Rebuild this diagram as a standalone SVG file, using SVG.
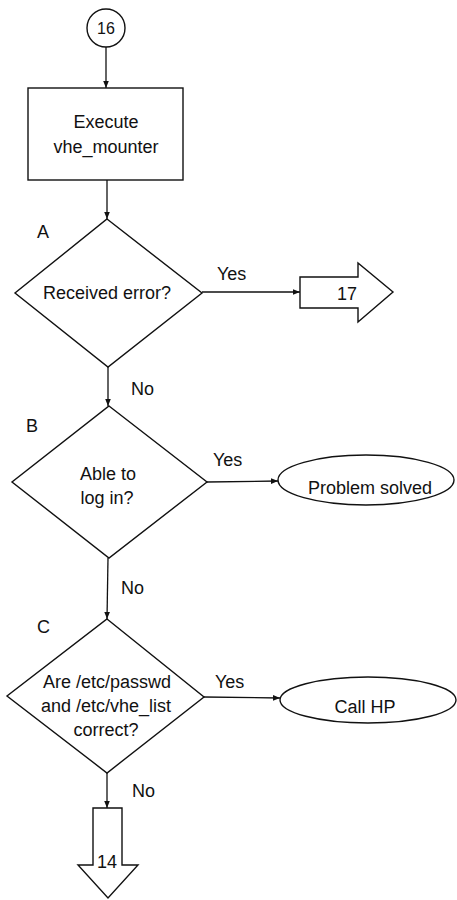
<svg xmlns="http://www.w3.org/2000/svg" width="457" height="900" viewBox="0 0 457 900">
  <style>
    .shape { fill: #fff; stroke: #111; stroke-width: 1.4; }
    .wire { fill: none; stroke: #111; stroke-width: 1.3; }
    text { font-family: "Liberation Sans", Arial, sans-serif; font-size: 18px; fill: #111; }
    .mid { text-anchor: middle; }
  </style>
  <defs>
    <marker id="arrow" viewBox="0 0 10 10" refX="10" refY="5" markerWidth="7" markerHeight="7" markerUnits="userSpaceOnUse" orient="auto">
      <path d="M0,1 L10,5 L0,9 Z" fill="#111"/>
    </marker>
  </defs>

  <rect width="457" height="900" fill="#fff"/>

  <!-- connectors -->
  <g id="connectors">
    <line class="wire" x1="106" y1="47" x2="106" y2="88" marker-end="url(#arrow)"/>
    <line class="wire" x1="107" y1="180" x2="107" y2="219" marker-end="url(#arrow)"/>
    <line class="wire" x1="202" y1="292" x2="300" y2="292" marker-end="url(#arrow)"/>
    <line class="wire" x1="108" y1="367" x2="108" y2="406" marker-end="url(#arrow)"/>
    <line class="wire" x1="207" y1="482" x2="278" y2="481" marker-end="url(#arrow)"/>
    <line class="wire" x1="108" y1="558" x2="107" y2="619" marker-end="url(#arrow)"/>
    <line class="wire" x1="204" y1="697" x2="280" y2="698" marker-end="url(#arrow)"/>
    <line class="wire" x1="107" y1="773" x2="107" y2="808" marker-end="url(#arrow)"/>
    <text x="217" y="280">Yes</text>
    <text x="131" y="395">No</text>
    <text x="213" y="466">Yes</text>
    <text x="121" y="594">No</text>
    <text x="215" y="688">Yes</text>
    <text x="132" y="797">No</text>
  </g>

  <!-- off-page connector 16 -->
  <g id="connector-16">
    <circle class="shape" cx="106" cy="28" r="19"/>
    <text class="mid" x="106" y="34" style="font-size:16px">16</text>
  </g>

  <!-- process -->
  <g id="execute">
    <rect class="shape" x="28" y="88" width="155" height="92"/>
    <text class="mid" x="106" y="128">Execute</text>
    <text class="mid" x="106" y="153">vhe_mounter</text>
  </g>

  <!-- decision A -->
  <g id="decision-a">
    <text x="37" y="238">A</text>
    <polygon class="shape" points="107,219 202,293 108,367 15,293"/>
    <text class="mid" x="107" y="299">Received error?</text>
  </g>

  <!-- page arrow 17 -->
  <g id="goto-17">
    <polygon class="shape" points="300,277 358,277 358,263 393,292 358,322 358,308 300,308"/>
    <text class="mid" x="347" y="300">17</text>
  </g>

  <!-- decision B -->
  <g id="decision-b">
    <text x="26" y="432">B</text>
    <polygon class="shape" points="109,406 207,482 109,558 12,482"/>
    <text class="mid" x="108" y="480">Able to</text>
    <text class="mid" x="107" y="504">log in?</text>
  </g>

  <!-- terminal: problem solved -->
  <g id="problem-solved">
    <ellipse class="shape" cx="366" cy="480" rx="88" ry="25"/>
    <text class="mid" x="370" y="494">Problem solved</text>
  </g>

  <!-- decision C -->
  <g id="decision-c">
    <text x="37" y="633">C</text>
    <polygon class="shape" points="107,619 204,697 107,773 7,696"/>
    <text class="mid" x="107" y="688">Are /etc/passwd</text>
    <text class="mid" x="106" y="712">and /etc/vhe_list</text>
    <text class="mid" x="106" y="736">correct?</text>
  </g>

  <!-- terminal: call HP -->
  <g id="call-hp">
    <ellipse class="shape" cx="368" cy="700" rx="88" ry="23"/>
    <text class="mid" x="365" y="713">Call HP</text>
  </g>

  <!-- page arrow 14 -->
  <g id="goto-14">
    <polygon class="shape" points="93,808 122,808 122,865 138,865 108,898 78,865 93,865"/>
    <text class="mid" x="107" y="868">14</text>
  </g>
</svg>
